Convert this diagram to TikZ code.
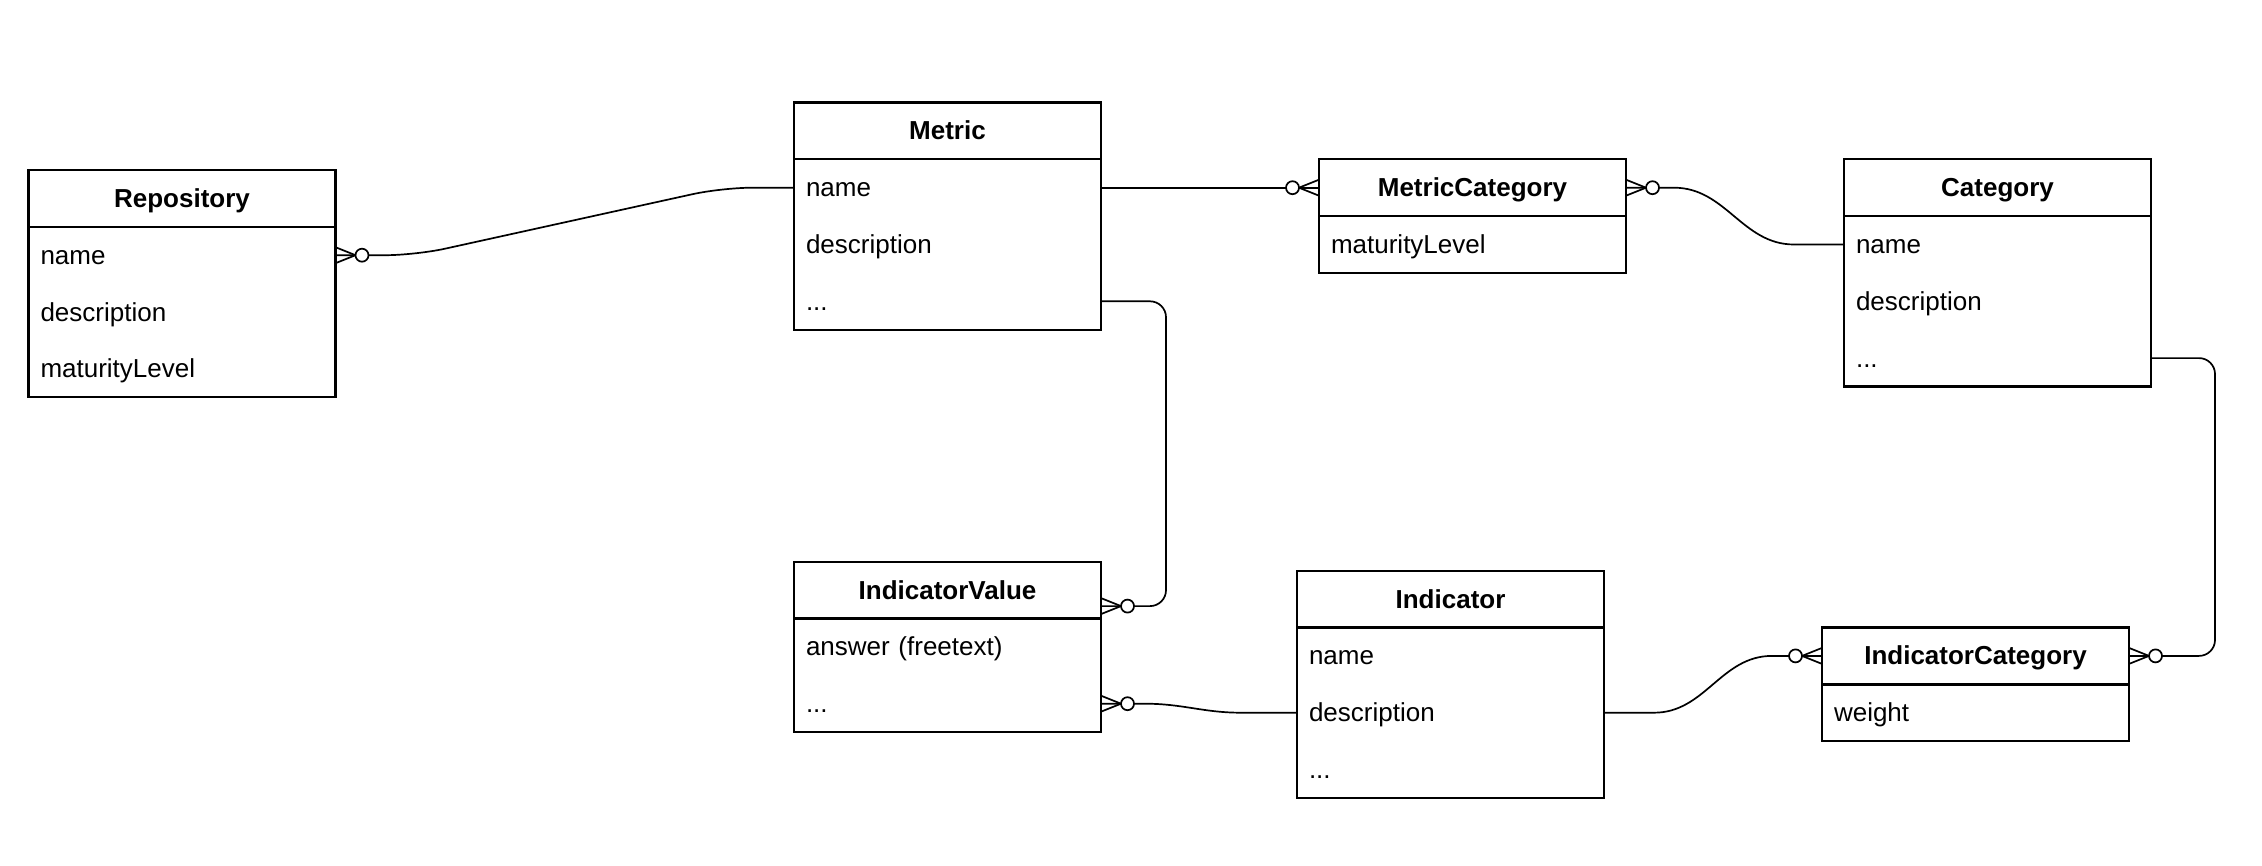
\documentclass[tikz,border=0pt]{standalone}
\usepackage{fontspec}
\setmainfont{Liberation Sans}
\usetikzlibrary{positioning, fit, calc}

\begin{document}
\begin{tikzpicture}[
  x=0.5pt, y=-0.5pt,
  font=\fontsize{13pt}{15.6pt}\selectfont,
  ent/.style   ={draw, line width=1.2pt, font=\fontsize{13pt}{15.6pt}\selectfont\bfseries, minimum width=153.5pt, minimum height=28.4pt, inner sep=0pt, outer sep=0pt, text height=11.8pt, text depth=2.8pt},
  attr/.style  ={align=left, text width=141.5pt, inner xsep=6pt, inner ysep=0pt, outer sep=0pt, minimum height=28.4pt, text height=11.8pt, text depth=2.8pt},
  entbox/.style={draw, line width=1.2pt, inner sep=0pt, outer sep=0pt},
  rel/.style   ={draw=black, line width=0.85pt},
  zmany/.pic   ={\draw[rel] (0,-8) -- (20,0) -- (0,8);
                 \draw[rel, fill=white] (26.5,0) circle[radius=6.5];},
]
\useasboundingbox (0,0) rectangle (2262,866);

% ---------- Repository ----------
\node[ent] (repo) at (182,198.4) {Repository};
\node[attr, below=0pt of repo]      (repo-name) {name};
\node[attr, below=0pt of repo-name] (repo-desc) {description};
\node[attr, below=0pt of repo-desc] (repo-lvl)  {maturityLevel};
\node[entbox, fit=(repo-name)(repo-lvl)] (repo-box) {};

% ---------- Metric ----------
\node[ent, right=229.25pt of repo, yshift=33.75pt] (metric) {Metric};
\node[attr, below=0pt of metric]      (metric-name) {name};
\node[attr, below=0pt of metric-name] (metric-desc) {description};
\node[attr, below=0pt of metric-desc] (metric-etc)  {...};
\node[entbox, fit=(metric-name)(metric-etc)] (metric-box) {};

% ---------- MetricCategory ----------
\node[ent, right=109pt of metric, yshift=-28.4pt] (metcat) {MetricCategory};
\node[attr, below=0pt of metcat] (metcat-lvl) {maturityLevel};
\node[entbox, fit=(metcat-lvl)] (metcat-box) {};

% ---------- Category ----------
\node[ent, right=109pt of metcat] (cat) {Category};
\node[attr, below=0pt of cat]      (cat-name) {name};
\node[attr, below=0pt of cat-name] (cat-desc) {description};
\node[attr, below=0pt of cat-desc] (cat-etc)  {...};
\node[entbox, fit=(cat-name)(cat-etc)] (cat-box) {};

% ---------- IndicatorValue ----------
\node[ent, below=116pt of metric-box] (ival) {IndicatorValue};
\node[attr, below=0pt of ival]     (ival-ans) {answer (freetext)};
\node[attr, below=0pt of ival-ans] (ival-etc) {...};
\node[entbox, fit=(ival-ans)(ival-etc)] (ival-box) {};

% ---------- Indicator ----------
\node[ent, right=98pt of ival, yshift=-4.5pt] (ind) {Indicator};
\node[attr, below=0pt of ind]      (ind-name) {name};
\node[attr, below=0pt of ind-name] (ind-desc) {description};
\node[attr, below=0pt of ind-desc] (ind-etc)  {...};
\node[entbox, fit=(ind-name)(ind-etc)] (ind-box) {};

% ---------- IndicatorCategory ----------
\node[ent, right=109pt of ind, yshift=-28.4pt] (indcat) {IndicatorCategory};
\node[attr, below=0pt of indcat] (indcat-w) {weight};
\node[entbox, fit=(indcat-w)] (indcat-box) {};

\coordinate (ival-in) at ($(ival.east)+(0,16)$);

% ---------- relations ----------
\draw[rel, rounded corners=15pt] (repo-name.east) -- ++(80,0) -- ($(metric-name.west)+(-72,0)$) -- (metric-name.west);
\draw[rel] (metric-name.east) -- (metcat.west);
\draw[rel] (metcat.east) -- ++(48,0) to[out=0,in=180] ($(cat-name.west)+(-50,0)$) -- (cat-name.west);
\draw[rel, rounded corners=8pt] (cat-etc.east) -- ++(64,0) |- (indcat.east);
\draw[rel, rounded corners=8pt] (metric-etc.east) -- ++(65,0) |- (ival-in);
\draw[rel] (ind-desc.west) -- ++(-56,0) to[out=180,in=0] ($(ival-etc.east)+(44,0)$) -- (ival-etc.east);
\draw[rel] (ind-desc.east) -- ++(50,0) to[out=0,in=180] ($(indcat.west)+(-50,0)$) -- (indcat.west);

% zero-or-many ends
\pic at (repo-name.east) {zmany};
\pic[rotate=180] at (metcat.west) {zmany};
\pic at (metcat.east) {zmany};
\pic at (indcat.east) {zmany};
\pic at (ival-in) {zmany};
\pic at (ival-etc.east) {zmany};
\pic[rotate=180] at (indcat.west) {zmany};

\end{tikzpicture}
\end{document}
